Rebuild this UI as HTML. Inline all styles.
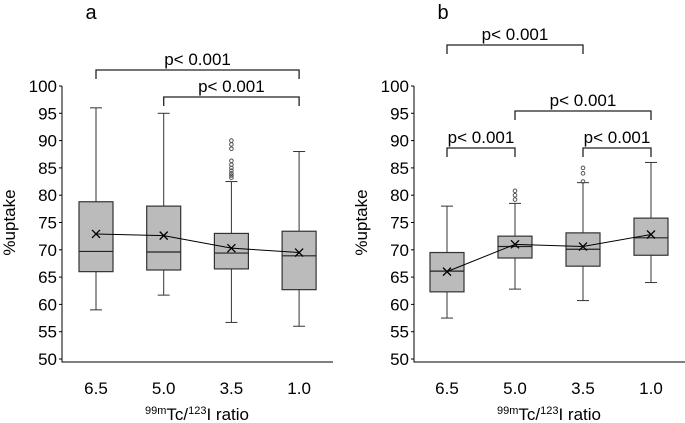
<!DOCTYPE html>
<html><head><meta charset="utf-8"><style>
body{margin:0;background:#fff}
svg{font-family:"Liberation Sans",Arial,sans-serif;display:block}
</style></head><body>
<svg id="chart" width="685" height="423" viewBox="0 0 685 423"></svg>
<script>
const categories=["6.5","5.0","3.5","1.0"];
const yTicks=[50,55,60,65,70,75,80,85,90,95,100];
// panel a: [low whisker, q1, median, q3, high whisker]
const aLow=[59,61.7,56.7,56];
const aQ1=[66,66.3,66.5,62.7];
const aMed=[69.7,69.6,69.4,68.9];
const aQ3=[78.8,78,73,73.4];
const aHigh=[96,95,82.5,88];
const aMean=[72.9,72.6,70.3,69.5];
const aOutliers=[[],[],[83.2,83.6,84,84.5,85,85.6,86.3,88.5,89.3,90],[]];
const bLow=[57.5,62.8,60.7,64];
const bQ1=[62.3,68.5,67,69];
const bMed=[66.1,70.6,70.1,72.2];
const bQ3=[69.5,72.5,73.1,75.8];
const bHigh=[78,78.5,82.3,86];
const bMean=[66,71,70.6,72.8];
const bOutliers=[[],[79.2,80,80.8],[82.5,84,85],[]];
const aBrackets=[[0,3,"p< 0.001"],[1,3,"p< 0.001"]];
const bBrackets=[[0,2,"p< 0.001"],[1,3,"p< 0.001"],[0,1,"p< 0.001"],[2,3,"p< 0.001"]];

const NS="http://www.w3.org/2000/svg";
const svg=document.getElementById('chart');
function mk(tag,attrs,parent){const e=document.createElementNS(NS,tag);for(const k in attrs)e.setAttribute(k,attrs[k]);(parent||svg).appendChild(e);return e;}
const y=v=>359-(v-50)*5.46;

function panel(o){
  const g=mk('g',{});
  
  
  const x=i=>o.c0+i*o.step;
  let t=mk('text',{x:o.ax+29,y:19,'font-size':20,'text-anchor':'middle'},g);t.textContent=o.letter;
  
  let ax=mk('path',{d:`M${o.ax},${y(100)}V362H${o.ax+271}`,stroke:'#000',fill:'none','stroke-width':1},g);
  
  yTicks.forEach(v=>{
    mk('line',{x1:o.ax-3,x2:o.ax,y1:y(v),y2:y(v),stroke:'#000'},g);
    const l=mk('text',{x:o.ax-5,y:y(v)+6,'font-size':17,'text-anchor':'end'},g);l.textContent=v;
    
  });
  const yt=mk('text',{transform:`translate(${o.ax-47},${y(75)}) rotate(-90)`,'font-size':17,'text-anchor':'middle'},g);yt.textContent='%uptake';
  
  categories.forEach((c,i)=>{
    const l=mk('text',{x:x(i),y:394,'font-size':17,'text-anchor':'middle'},g);l.textContent=c;
    
  });
  const xt=mk('text',{x:o.ax+135,y:420,'font-size':17,'text-anchor':'middle'},g);
  xt.innerHTML='<tspan font-size="11" dy="-6">99m</tspan><tspan dy="6">Tc/</tspan><tspan font-size="11" dy="-6">123</tspan><tspan dy="6">I ratio</tspan>';
  
  const w=34;
  categories.forEach((c,i)=>{
    const bg=mk('g',{},g);
    
    const cx=x(i);
    mk('line',{x1:cx,x2:cx,y1:y(o.high[i]),y2:y(o.low[i]),stroke:'#333'},bg);
    mk('line',{x1:cx-6,x2:cx+6,y1:y(o.high[i]),y2:y(o.high[i]),stroke:'#333'},bg);
    mk('line',{x1:cx-6,x2:cx+6,y1:y(o.low[i]),y2:y(o.low[i]),stroke:'#333'},bg);
    mk('rect',{x:cx-w/2,y:y(o.q3[i]),width:w,height:y(o.q1[i])-y(o.q3[i]),fill:'#bbb',stroke:'#333','stroke-width':1.2},bg);
    mk('line',{x1:cx-w/2,x2:cx+w/2,y1:y(o.med[i]),y2:y(o.med[i]),stroke:'#222','stroke-width':1.2},bg);
    o.out[i].forEach(v=>mk('circle',{cx:cx,cy:y(v),r:1.8,fill:'none',stroke:'#555'},bg));
  });
  const ml=mk('polyline',{points:o.mean.map((v,i)=>x(i)+','+y(v)).join(' '),fill:'none',stroke:'#000'},g);
  
  o.mean.forEach((v,i)=>{
    const m=mk('path',{d:`M${x(i)-4},${y(v)-4}l8,8M${x(i)-4},${y(v)+4}l8,-8`,stroke:'#000','stroke-width':1.3},g);
    
  });
  o.br.forEach((b,k)=>{
    const yy=o.brY[k];
    const bk=mk('path',{d:`M${x(b[0])},${yy+9}V${yy}H${x(b[1])}V${yy+9}`,fill:'none',stroke:'#222','stroke-width':1.3},g);
    
    const tt=mk('text',{x:(x(b[0])+x(b[1]))/2,y:yy-5,'font-size':17,'text-anchor':'middle'},g);tt.textContent=b[2];
    
  });
}
panel({letter:'a',ax:62,c0:96,step:67.7,low:aLow,q1:aQ1,med:aMed,q3:aQ3,high:aHigh,mean:aMean,out:aOutliers,br:aBrackets,brY:[70,97]});
panel({letter:'b',ax:414,c0:447,step:68,low:bLow,q1:bQ1,med:bMed,q3:bQ3,high:bHigh,mean:bMean,out:bOutliers,br:bBrackets,brY:[45,111,148,148]});
</script>
</body></html>
